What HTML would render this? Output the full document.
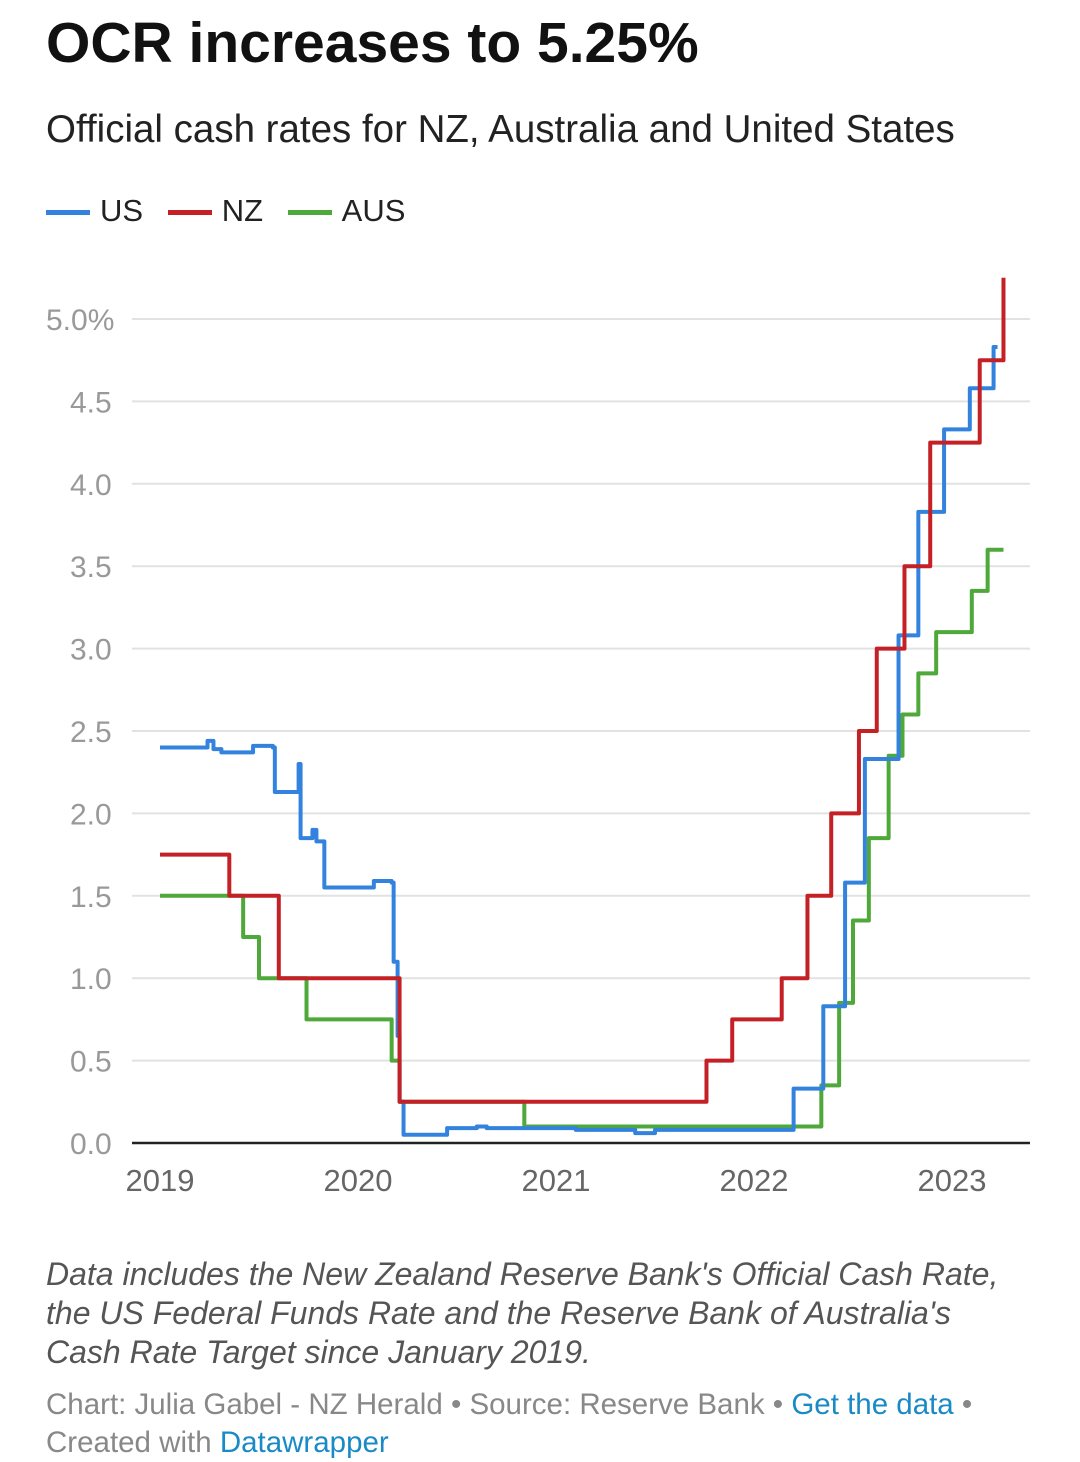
<!DOCTYPE html>
<html><head><meta charset="utf-8"><style>
body{margin:0;background:#fff;width:1080px;height:1462px;overflow:hidden;font-family:"Liberation Sans",sans-serif;}
.t{position:absolute;left:46px;}
</style></head><body>
<div class="t" style="top:10px;font-size:57px;font-weight:bold;color:#111;">OCR increases to 5.25%</div>
<div class="t" style="top:108px;font-size:38.5px;color:#222;">Official cash rates for NZ, Australia and United States</div>
<div class="t" style="top:193px;font-size:31px;color:#222;">
<span><span style="display:inline-block;width:44px;height:5px;background:#3383de;vertical-align:middle;margin-right:10px"></span>US</span>
<span style="margin-left:16px"><span style="display:inline-block;width:44px;height:5px;background:#c42127;vertical-align:middle;margin-right:10px"></span>NZ</span>
<span style="margin-left:16px"><span style="display:inline-block;width:44px;height:5px;background:#4ea83a;vertical-align:middle;margin-right:10px"></span>AUS</span>
</div>
<svg id="c" width="1080" height="1220" style="position:absolute;left:0;top:0"></svg>
<div class="t" style="top:1255px;font-size:32px;font-style:italic;color:#555;line-height:39px;">Data includes the New Zealand Reserve Bank's Official Cash Rate,<br>the US Federal Funds Rate and the Reserve Bank of Australia's<br>Cash Rate Target since January 2019.</div>
<div class="t" style="top:1386px;font-size:29.5px;color:#888;line-height:38px;">Chart: Julia Gabel - NZ Herald • Source: Reserve Bank • <span style="color:#1a8ac6">Get the data</span> •<br>Created with <span style="color:#1a8ac6">Datawrapper</span></div>
<script>
const yTicks=[0,0.5,1,1.5,2,2.5,3,3.5,4,4.5,5];
const yLabels=["0.0","0.5","1.0","1.5","2.0","2.5","3.0","3.5","4.0","4.5","5.0%"];
const xTicks=[2019,2020,2021,2022,2023];
const nzT=[2019.0,2019.35,2019.6,2020.21,2021.76,2021.89,2022.14,2022.27,2022.39,2022.53,2022.62,2022.76,2022.89,2023.14,2023.26];
const nzV=[1.75,1.5,1.0,0.25,0.5,0.75,1.0,1.5,2.0,2.5,3.0,3.5,4.25,4.75,5.25];
const ausT=[2019.0,2019.42,2019.5,2019.74,2020.17,2020.21,2020.84,2022.34,2022.43,2022.5,2022.58,2022.68,2022.75,2022.83,2022.92,2023.1,2023.18,2023.26];
const ausV=[1.5,1.25,1.0,0.75,0.5,0.25,0.1,0.35,0.85,1.35,1.85,2.35,2.6,2.85,3.1,3.35,3.6,3.6];
const usT=[2019.0,2019.24,2019.27,2019.31,2019.47,2019.57,2019.58,2019.7,2019.71,2019.77,2019.79,2019.83,2020.06,2020.08,2020.17,2020.18,2020.2,2020.21,2020.23,2020.4,2020.45,2020.6,2020.65,2021.0,2021.1,2021.4,2021.5,2021.7,2022.19,2022.2,2022.34,2022.35,2022.45,2022.46,2022.55,2022.56,2022.72,2022.73,2022.82,2022.83,2022.95,2022.96,2023.08,2023.09,2023.2,2023.21,2023.23];
const usV=[2.40,2.44,2.39,2.37,2.41,2.40,2.13,2.30,1.85,1.90,1.83,1.55,1.55,1.59,1.58,1.10,0.65,0.25,0.05,0.05,0.09,0.10,0.09,0.09,0.08,0.06,0.08,0.08,0.08,0.33,0.33,0.83,0.83,1.58,1.58,2.33,2.33,3.08,3.08,3.83,3.83,4.33,4.33,4.58,4.58,4.83,4.83];
const X=t=>160+(t-2019)*198;
const Y=v=>1143-v*164.8;
const svg=document.getElementById('c');
const NS='http://www.w3.org/2000/svg';
function mk(tag,a){const e=document.createElementNS(NS,tag);for(const k in a)e.setAttribute(k,a[k]);svg.appendChild(e);return e;}
yTicks.forEach((v,i)=>{
 if(v>0){const g=mk('line',{x1:132,x2:1030,y1:Y(v),y2:Y(v),stroke:'#e2e2e2','stroke-width':2});
 
 }
 const t=mk('text',{x:116,y:Y(v)+11,'text-anchor':'end','font-size':30,fill:'#999','font-family':'Liberation Sans, sans-serif'});
 t.textContent=yLabels[i];
 
 
 if(i==yTicks.length-1)t.setAttribute('x',46),t.setAttribute('text-anchor','start');
 else t.setAttribute('x',70),t.setAttribute('text-anchor','start');
});
xTicks.forEach(y=>{
 const t=mk('text',{x:X(y),y:1191,'text-anchor':'middle','font-size':31,fill:'#666','font-family':'Liberation Sans, sans-serif'});
 t.textContent=y;
 
 
});
function step(T,V,col,name){
 let d='M'+X(T[0])+','+Y(V[0]);
 for(let i=1;i<T.length;i++){d+=' H'+X(T[i])+' V'+Y(V[i]);}
 const p=mk('path',{d:d,fill:'none',stroke:col,'stroke-width':4,'stroke-linejoin':'round'});
 
 
}
step(ausT,ausV,'#4ea83a','aus-line');
step(usT,usV,'#3383de','us-line');
step(nzT,nzV,'#c42127','nz-line');
const ax=mk('line',{x1:132,x2:1030,y1:1143,y2:1143,stroke:'#222','stroke-width':2.5});


</script>
</body></html>
